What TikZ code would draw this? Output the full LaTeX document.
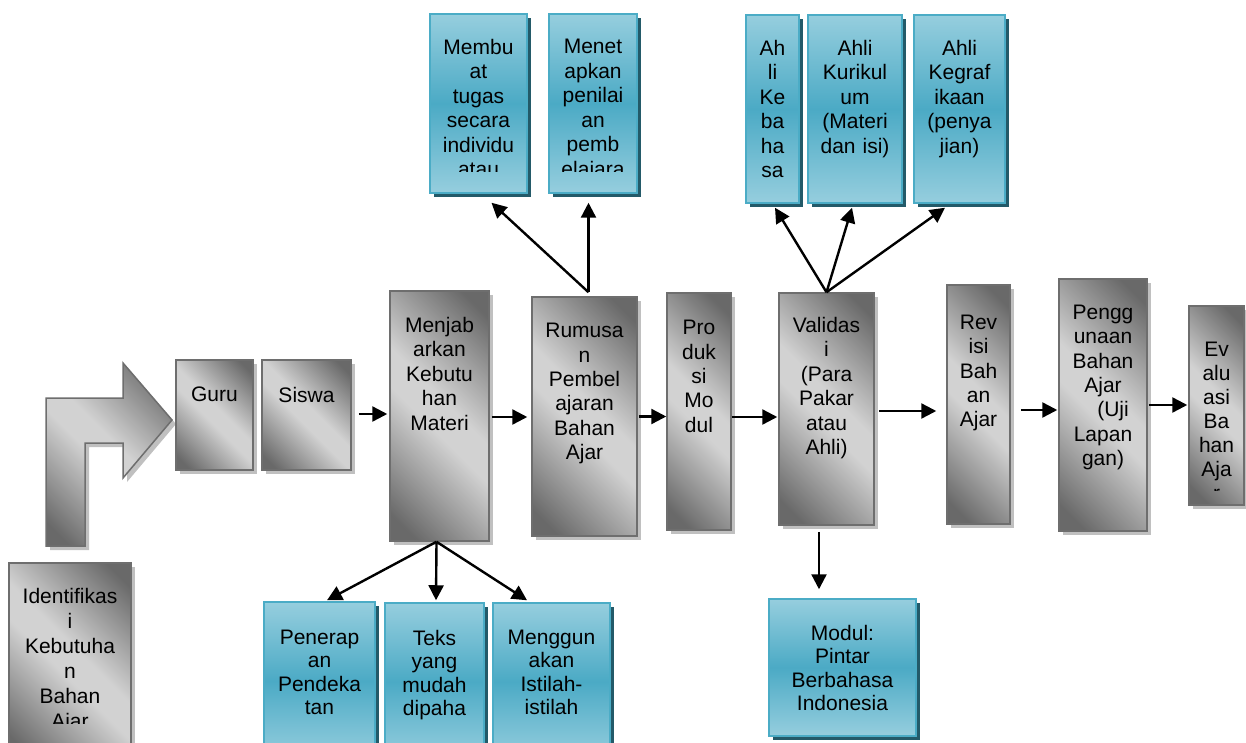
\documentclass[tikz,border=0pt]{standalone}
\usepackage{fontspec}
\setmainfont{Liberation Sans}
\usetikzlibrary{arrows.meta,calc,shadows}
\definecolor{gdark}{RGB}{105,105,105}
\definecolor{glight}{RGB}{210,210,210}
\definecolor{gborder}{RGB}{110,110,110}
\definecolor{gshadow}{RGB}{192,192,192}
\definecolor{blight}{RGB}{150,206,222}
\definecolor{bmid}{RGB}{75,170,197}
\definecolor{bborder}{RGB}{75,172,198}
\definecolor{bshadow}{RGB}{35,90,105}
\pgfdeclareverticalshading{greyshade}{100bp}{color(0bp)=(gdark); color(20bp)=(gdark); color(46bp)=(glight); color(54bp)=(glight); color(80bp)=(gdark); color(100bp)=(gdark)}
\tikzset{
  greybox/.style={shade, shading=greyshade, shading angle=-45, draw=gborder, line width=1.5pt, inner sep=0pt,
    drop shadow={fill=gshadow, opacity=1, shadow xshift=4pt, shadow yshift=-4pt}},
  bluebox/.style={top color=blight, bottom color=blight, middle color=bmid, draw=bborder, line width=1.5pt, inner sep=0pt,
    drop shadow={fill=bshadow, opacity=1, shadow xshift=4pt, shadow yshift=-4pt}},
  boxtext/.style={anchor=north, inner sep=0pt, text width=140pt, align=center, text=black},
  arr/.style={line width=2.4pt, -{Triangle[length=15pt,width=15pt]}},
}
% style, name, x1, y1, x2, y2
\newcommand{\flowbox}[6]{%
  \node[#1, minimum width={#5-#3}, minimum height={#6-#4}] (#2) at ({(#3+#5)/2},{(#4+#6)/2}) {};
}
% box name, text name, first baseline y, clip y, baselineskip, text
\newcommand{\flowtext}[6]{%
  \begin{scope}
    \clip (#1.north west) rectangle (#1.east |- 0,#4);
    \node[boxtext, font=\fontsize{21}{#5}\selectfont] (#2) at ($(#1.north |- 0,#3)+(0,-15)$) {#6};
  \end{scope}
}
\begin{document}
\begin{tikzpicture}[x=1pt, y=-1pt]
\clip (0,0) rectangle (1246,743);
\fill[white] (0,0) rectangle (1246,743);

% bent arrow
\path[shade, shading=greyshade, shading angle=-45, draw=gborder, line width=1.5pt,
  drop shadow={fill=gshadow, opacity=1, shadow xshift=4pt, shadow yshift=-4pt}]
  (46,546) -- (46,398) -- (123,398) -- (123,363) -- (172,420) -- (123,478) -- (123,443) -- (85,443) -- (85,546) -- cycle;

% grey boxes
\flowbox{greybox}{ident}{9}{563}{131}{760}
\flowbox{greybox}{guru}{176}{360}{253}{470}
\flowbox{greybox}{siswa}{262}{360}{351}{470}
\flowbox{greybox}{menjab}{390}{291}{489}{541}
\flowbox{greybox}{rumusan}{532}{297}{637}{536}
\flowbox{greybox}{produksi}{667}{293}{731}{530}
\flowbox{greybox}{validasi}{779}{293}{874}{525}
\flowbox{greybox}{revisi}{947}{285}{1010}{524}
\flowbox{greybox}{pengg}{1059}{279}{1147}{531}
\flowbox{greybox}{eval}{1189}{306}{1244}{505}

% blue boxes
\flowbox{bluebox}{membuat}{430}{14}{527}{193}
\flowbox{bluebox}{menetapkan}{549}{14}{637}{193}
\flowbox{bluebox}{kebahasa}{746}{15}{799}{203}
\flowbox{bluebox}{kurikulum}{808}{15}{902}{203}
\flowbox{bluebox}{kegrafikaan}{914}{15}{1005}{203}
\flowbox{bluebox}{penerapan}{264}{602}{375}{760}
\flowbox{bluebox}{teks}{385}{603}{484}{760}
\flowbox{bluebox}{menggunakan}{493}{603}{610}{760}
\flowbox{bluebox}{modul}{769}{599}{916}{736}

% texts
\flowtext{ident}{ident-t}{603}{723}{25}{Identifikas\\i\\Kebutuha\\n\\Bahan\\Ajar}
\flowtext{guru}{guru-t}{402}{470}{24.5}{Guru}
\flowtext{siswa}{siswa-t}{402}{470}{24.5}{Siswa}
\flowtext{menjab}{menjab-t}{332}{541}{24.5}{Menjab\\arkan\\Kebutu\\han\\Materi}
\flowtext{rumusan}{rumusan-t}{338}{536}{24.4}{Rumusa\\n\\Pembel\\ajaran\\Bahan\\Ajar}
\flowtext{produksi}{produksi-t}{335}{530}{24.4}{Pro\\duk\\si\\Mo\\dul}
\flowtext{validasi}{validasi-t}{332}{525}{24.4}{Validas\\i\\(Para\\Pakar\\atau\\Ahli)}
\flowtext{revisi}{revisi-t}{330}{524}{24.3}{Rev\\isi\\Bah\\an\\Ajar}
\flowtext{pengg}{pengg-t}{320}{531}{24.3}{Pengg\\unaan\\Bahan\\Ajar\\\hspace*{20pt}(Uji\\Lapan\\gan)}
\flowtext{eval}{eval-t}{357}{490}{24}{Ev\\alu\\asi\\Ba\\han\\Aja\\r}
\flowtext{membuat}{membuat-t}{54}{172}{24.5}{Membu\\at\\tugas\\secara\\individu\\atau}
\flowtext{menetapkan}{menetapkan-t}{54}{172}{24.5}{Menet\\apkan\\penilai\\an\\pemb\\elajara}
\flowtext{kebahasa}{kebahasa-t}{55}{203}{24.4}{Ah\\li\\Ke\\ba\\ha\\sa}
\flowtext{kurikulum}{kurikulum-t}{55}{203}{24.4}{Ahli\\Kurikul\\um\\(Materi\\dan isi)}
\flowtext{kegrafikaan}{kegrafikaan-t}{55}{203}{24.4}{Ahli\\Kegraf\\ikaan\\(penya\\jian)}
\flowtext{penerapan}{penerapan-t}{645}{723}{23.3}{Penerap\\an\\Pendeka\\tan}
\flowtext{teks}{teks-t}{645}{723}{23.3}{Teks\\yang\\mudah\\dipaha}
\flowtext{menggunakan}{menggunakan-t}{645}{723}{23.3}{Menggun\\akan\\Istilah-\\istilah}
\flowtext{modul}{modul-t}{640}{736}{23.3}{Modul:\\Pintar\\Berbahasa\\Indonesia}

% horizontal flow arrows
\draw[arr] ($(siswa.east)+(7,-1)$) -- ($(siswa.east -| menjab.west)+(-2,-1)$);
\draw[arr] ($(menjab.east)+(2,1)$) -- ($(menjab.east -| rumusan.west)+(-4,1)$);
\draw[arr] ($(rumusan.east)+(1,0)$) -- ($(rumusan.east -| produksi.west)+(0,0)$);
\draw[arr] ($(produksi.east)+(0,5.5)$) -- ($(produksi.east -| validasi.west)+(-1,5.5)$);
\draw[arr] ($(validasi.east)+(4,2)$) -- ($(validasi.east -| revisi.west)+(-10,2)$);
\draw[arr] ($(revisi.east)+(10,5.5)$) -- ($(revisi.east -| pengg.west)+(-1,5.5)$);
\draw[arr] ($(pengg.east)+(1,0)$) -- ($(pengg.east -| eval.west)+(-1,0)$);

% upward arrows
\draw[arr] ($(rumusan.north)+(4,-4)$) -- ($(membuat.south)+(13,9)$);
\draw[arr] ($(rumusan.north)+(4,-4)$) -- ($(menetapkan.south)+(-4.5,9)$);
\draw[arr] (validasi.north) -- ($(kebahasa.south)+(2.5,4)$);
\draw[arr] (validasi.north) -- ($(kurikulum.south)+(-3,4)$);
\draw[arr] (validasi.north) -- ($(kegrafikaan.south)+(-14.5,4)$);

% downward arrows
\draw[arr] ($(menjab.south)+(-3,0)$) -- ($(penerapan.north)+(7.5,-1)$);
\draw[arr] ($(menjab.south)+(-3,0)$) -- ($(teks.north)+(1.5,-2)$);
\draw[arr] ($(menjab.south)+(-3,0)$) -- ($(menggunakan.north)+(-24.5,-2)$);
\draw[arr] ($(validasi.south)+(-7.5,6)$) -- ($(modul.north)+(-23.5,-9)$);
\end{tikzpicture}
\end{document}
